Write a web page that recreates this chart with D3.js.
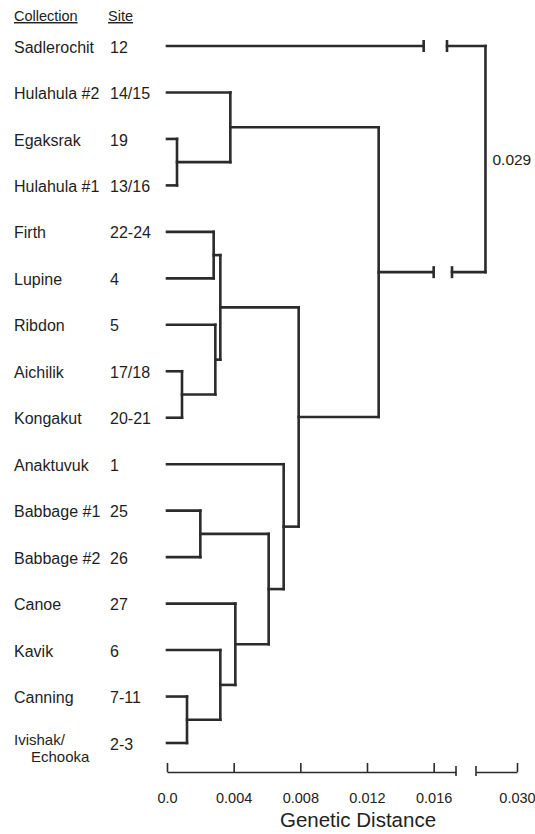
<!DOCTYPE html>
<html>
<head>
<meta charset="utf-8">
<script src="https://cdn.jsdelivr.net/npm/d3@7"></script>
<style>
  body { margin: 0; background: #fff; }
  svg { font-family: "Liberation Sans", Arial, sans-serif; }
</style>
</head>
<body>
<div id="chart"></div>
<script>
// leaves, top to bottom
var collections = ["Sadlerochit", "Hulahula #2", "Egaksrak", "Hulahula #1", "Firth", "Lupine",
  "Ribdon", "Aichilik", "Kongakut", "Anaktuvuk", "Babbage #1", "Babbage #2", "Canoe", "Kavik",
  "Canning", "Ivishak/\nEchooka"];
var sites = ["12", "14/15", "19", "13/16", "22-24", "4", "5", "17/18", "20-21", "1", "25", "26",
  "27", "6", "7-11", "2-3"];

// merges: [id, left child, right child, genetic distance]
var merges = [
  ["n1", "Egaksrak", "Hulahula #1", 0.0006],
  ["n2", "Hulahula #2", "n1", 0.0038],
  ["n3", "Firth", "Lupine", 0.0028],
  ["n4", "Aichilik", "Kongakut", 0.0009],
  ["n5", "Ribdon", "n4", 0.0029],
  ["n6", "n3", "n5", 0.0032],
  ["n7", "Babbage #1", "Babbage #2", 0.0020],
  ["n8", "Canning", "Ivishak/\nEchooka", 0.0012],
  ["n9", "Kavik", "n8", 0.0032],
  ["n10", "Canoe", "n9", 0.0041],
  ["n11", "n7", "n10", 0.0061],
  ["n12", "Anaktuvuk", "n11", 0.0070],
  ["n13", "n6", "n12", 0.0079],
  ["n14", "n2", "n13", 0.0127],
  ["root", "Sadlerochit", "n14", 0.029]
];
// gaps drawn in the two long branches into the root
var rootGaps = [[0.0154, 0.0168], [0.0160, 0.0171]];
var rootLabel = "0.029";

var mainTicks = [0, 0.004, 0.008, 0.012, 0.016];
var farTicks = [0.030];

var width = 535, height = 834;
var svg = d3.select("#chart").append("svg")
    .attr("width", width).attr("height", height);

// broken distance scale: near part and the far part after the break
var xMain = d3.scaleLinear().domain([0, 0.01734]).range([167, 456]);
var xFar = d3.scaleLinear().domain([0.0287, 0.030]).range([476, 517]);
function X(d) { return d <= xMain.domain()[1] ? xMain(d) : xFar(d); }

var y = d3.scalePoint().domain(collections).range([46, 743]);

// node lookup: leaves at distance 0, merges at their height
var nodes = {};
collections.forEach(function(c) { nodes[c] = {h: 0, y: y(c)}; });
merges.forEach(function(m) {
  var a = nodes[m[1]], b = nodes[m[2]];
  nodes[m[0]] = {h: m[3], y: (a.y + b.y) / 2, kids: [a, b]};
});

var ink = "#2b2b2b";
var tree = svg.append("g")
    .attr("fill", "none").attr("stroke", ink)
    .attr("stroke-width", 2.6).attr("stroke-linecap", "square");

merges.forEach(function(m) {
  var n = nodes[m[0]], xn = X(n.h);
  tree.append("line")
      .attr("x1", xn).attr("x2", xn)
      .attr("y1", n.kids[0].y).attr("y2", n.kids[1].y);
  n.kids.forEach(function(k, i) {
    if (m[0] === "root") {
      var g = rootGaps[i];
      tree.append("line").attr("x1", X(k.h)).attr("x2", X(g[0]))
          .attr("y1", k.y).attr("y2", k.y);
      tree.append("line").attr("x1", X(g[1])).attr("x2", xn)
          .attr("y1", k.y).attr("y2", k.y);
      [g[0], g[1]].forEach(function(v) {
        tree.append("line").attr("x1", X(v)).attr("x2", X(v))
            .attr("y1", k.y - 6).attr("y2", k.y + 6)
            .attr("stroke-linecap", "butt");
      });
    } else {
      tree.append("line").attr("x1", X(k.h)).attr("x2", xn)
          .attr("y1", k.y).attr("y2", k.y);
    }
  });
});

svg.append("text")
    .attr("x", X(nodes.root.h) + 7).attr("y", nodes.root.y)
    .attr("dy", "0.35em")
    .style("font-size", "15.5px").attr("fill", "#222")
    .text(rootLabel);

// headers
var head = svg.append("g").style("font-size", "14.5px").attr("fill", "#222")
    .style("text-decoration", "underline");
head.append("text").attr("x", 14).attr("y", 21).text("Collection");
head.append("text").attr("x", 108).attr("y", 21).text("Site");

// leaf labels
var rows = svg.append("g").style("font-size", "16px").attr("fill", "#1e1e1e");
collections.forEach(function(c, i) {
  var parts = c.split("\n");
  var t = rows.append("text").attr("x", 14).attr("dy", "0.35em");
  if (parts.length > 1) {
    // two-line label, set a bit smaller so the lines sit close
    t.attr("y", y(c) - 3).style("font-size", "15px");
    parts.forEach(function(p, j) {
      t.append("tspan").attr("x", 14 + j * 17).attr("dy", j ? "1.1em" : null).text(p);
    });
  } else {
    t.attr("y", y(c) + 1).text(c);
  }
  rows.append("text").attr("x", 110).attr("y", y(c) + 1).attr("dy", "0.35em").text(sites[i]);
});

// axis with a break
var axisY = 772;
var ax = svg.append("g").attr("transform", "translate(0," + axisY + ")");
var mainAxis = d3.axisBottom(xMain).tickValues(mainTicks)
    .tickSizeInner(-9).tickSizeOuter(0).tickPadding(21)
    .tickFormat(function(d) { return d === 0 ? "0.0" : d3.format(".3f")(d); });
var farAxis = d3.axisBottom(xFar).tickValues(farTicks)
    .tickSizeInner(-9).tickSizeOuter(0).tickPadding(21)
    .tickFormat(d3.format(".3f"));
[mainAxis, farAxis].forEach(function(a) {
  var g = ax.append("g").call(a);
  g.selectAll("path, line").attr("stroke", ink).attr("stroke-width", 1.6);
  g.selectAll("text").attr("fill", "#222").style("font-size", "14.5px")
      .style("font-family", "Liberation Sans, Arial, sans-serif");
});
[xMain.range()[1], xFar.range()[0]].forEach(function(v) {
  ax.append("line").attr("x1", v).attr("x2", v).attr("y1", -6).attr("y2", 4)
      .attr("stroke", ink).attr("stroke-width", 1.6);
});

svg.append("text")
    .attr("x", 358).attr("y", 827)
    .attr("text-anchor", "middle")
    .style("font-size", "20.5px").attr("fill", "#222")
    .text("Genetic Distance");
</script>
</body>
</html>
